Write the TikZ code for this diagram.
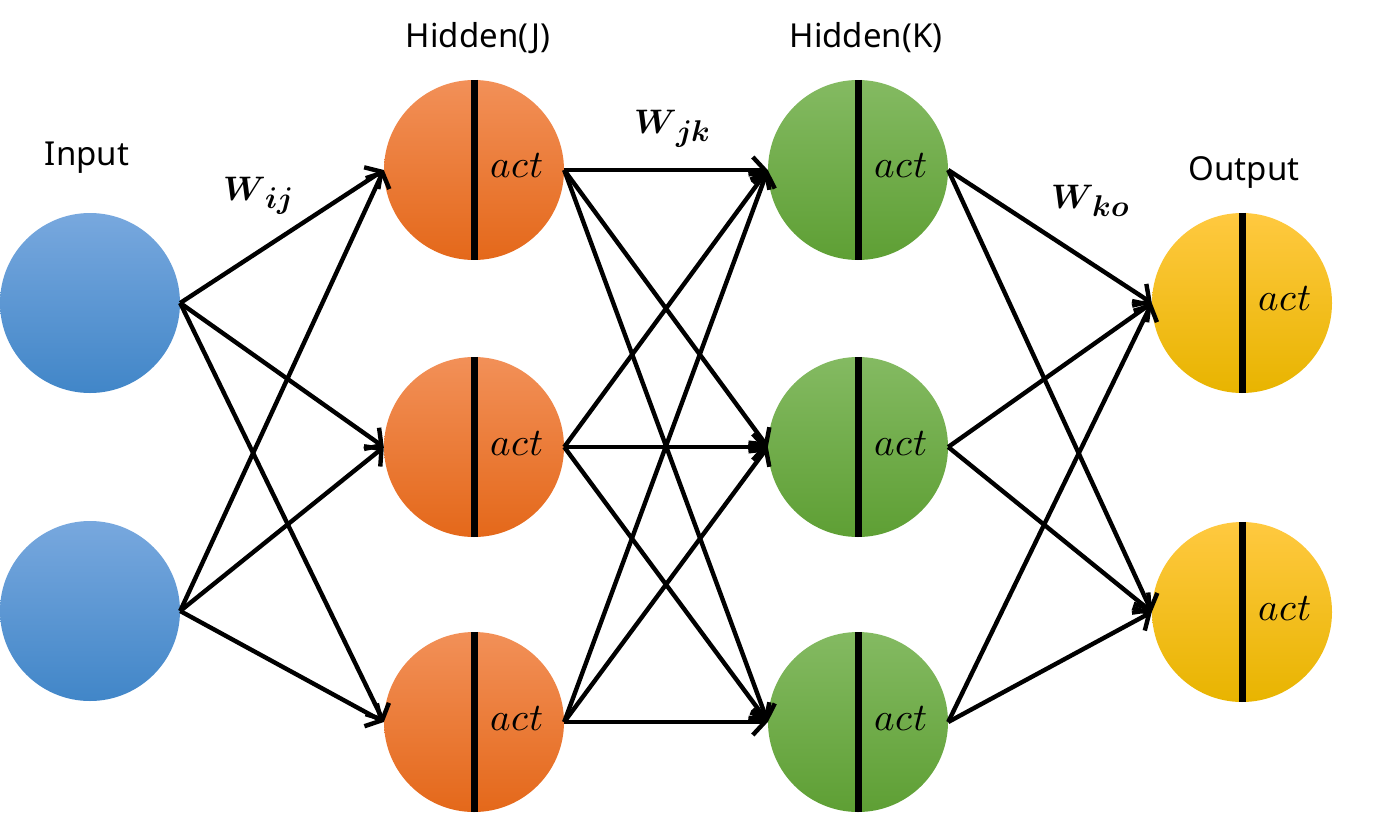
\documentclass[tikz,border=0pt]{standalone}
\usepackage{fontspec}
\setmainfont{Noto Sans}
\usepackage{unicode-math}
\setmathfont{Latin Modern Math}
\usetikzlibrary{arrows.meta}
\definecolor{bluetop}{HTML}{78A8DE}
\definecolor{bluebot}{HTML}{4186C8}
\definecolor{orgtop}{HTML}{F29058}
\definecolor{orgmid}{HTML}{F27B2A}
\definecolor{orgbot}{HTML}{E4681A}
\definecolor{grntop}{HTML}{84BA62}
\definecolor{grnmid}{HTML}{6CB042}
\definecolor{grnbot}{HTML}{5E9F34}
\definecolor{ylwtop}{HTML}{FFC940}
\definecolor{ylwmid}{HTML}{FFC400}
\definecolor{ylwbot}{HTML}{E8B400}
\newcommand{\wlab}[2]{{\fontsize{34}{36}\selectfont$\symbfit{#1}$}\raisebox{-8pt}{\fontsize{30}{32}\selectfont$\symbfit{#2}$}}
\begin{document}
\begin{tikzpicture}[x=1pt,y=-1pt,
  neuron/.style={circle,minimum size=180pt,inner sep=0pt,draw=none},
  innode/.style={neuron,top color=bluetop,bottom color=bluebot},
  jnode/.style={neuron,top color=orgtop,middle color=orgmid,bottom color=orgbot},
  knode/.style={neuron,top color=grntop,middle color=grnmid,bottom color=grnbot},
  onode/.style={neuron,top color=ylwtop,middle color=ylwmid,bottom color=ylwbot},
  bar/.style={line width=7pt,black},
  conn/.style={line width=4.4pt,black,-{Straight Barb[length=12pt,width=26pt]}},
  acttxt/.style={font=\fontsize{39}{40}\selectfont},
  title/.style={font=\fontsize{33}{36}\selectfont}
]
\useasboundingbox (0,0) rectangle (1386,817);
% nodes
\node[innode] (in1) at (90,303) {};
\node[innode] (in2) at (90,611) {};
\foreach \n/\y in {1/170,2/447,3/722}{
  \node[jnode] (j\n) at (474,\y) {};
  \node[knode] (k\n) at (858,\y) {};
}
\node[onode] (o1) at (1242,303) {};
\node[onode] (o2) at (1242,612) {};
% bars and act labels
\foreach \m in {j1,j2,j3,k1,k2,k3,o1,o2}{
  \draw[bar] (\m.north) -- (\m.south);
  \node[acttxt] (\m act) at ([xshift=43pt,yshift=4pt]\m.center) {$act$};
}
% connectors
\foreach \a in {in1,in2}{
  \foreach \b in {j1,j2,j3}{
    \draw[conn] (\a.east) -- (\b.west);
  }
}
\foreach \a in {j1,j2,j3}{
  \foreach \b in {k1,k2,k3}{
    \draw[conn] (\a.east) -- (\b.west);
  }
}
\foreach \a in {k1,k2,k3}{
  \foreach \b in {o1,o2}{
    \draw[conn] (\a.east) -- (\b.west);
  }
}
% titles
\node[title] (tin) at (87,158) {Input};
\node[title] (tj) at (478,38) {Hidden(J)};
\node[title] (tk) at (866,38) {Hidden(K)};
\node[title] (to) at (1244,172) {Output};
% weight labels
\node (wij) at (258,196) {\wlab{W}{ij}};
\node (wjk) at (672,129) {\wlab{W}{jk}};
\node (wko) at (1090,201) {\wlab{W}{ko}};
\end{tikzpicture}
\end{document}
